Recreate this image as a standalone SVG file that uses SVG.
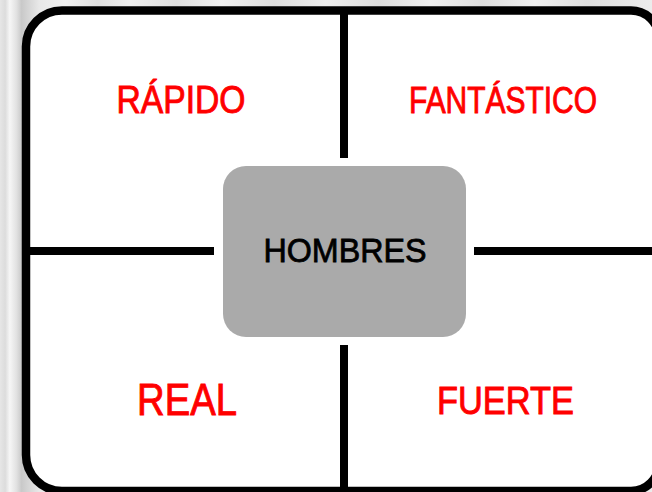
<svg xmlns="http://www.w3.org/2000/svg" width="652" height="492" viewBox="0 0 652 492">
<defs>
<linearGradient id="bg" x1="0" y1="0" x2="652" y2="0" gradientUnits="userSpaceOnUse">
<stop offset="0" stop-color="#e6e6e6"/>
<stop offset="0.008" stop-color="#dcdcdc"/>
<stop offset="0.015" stop-color="#f6f6f6"/>
<stop offset="0.025" stop-color="#e2e2e2"/>
<stop offset="0.033" stop-color="#c9c9c9"/>
<stop offset="0.06" stop-color="#e8e8e8"/>
<stop offset="0.1" stop-color="#f2f2f2"/>
<stop offset="0.15" stop-color="#e0e0e0"/>
<stop offset="0.2" stop-color="#efefef"/>
<stop offset="0.27" stop-color="#dedede"/>
<stop offset="0.34" stop-color="#f0f0f0"/>
<stop offset="0.42" stop-color="#dddddd"/>
<stop offset="0.5" stop-color="#eeeeee"/>
<stop offset="0.58" stop-color="#dcdcdc"/>
<stop offset="0.66" stop-color="#efefef"/>
<stop offset="0.74" stop-color="#dddddd"/>
<stop offset="0.82" stop-color="#f0f0f0"/>
<stop offset="0.9" stop-color="#dedede"/>
<stop offset="1" stop-color="#ececec"/>
</linearGradient>
<style>
.frame{fill:#ffffff;stroke:#000000;stroke-width:8.5}
.div{stroke:#000000;stroke-width:8;fill:none}
.lbl{font-family:"Liberation Sans",Arial,sans-serif;fill:#ff0000;stroke:#ff0000;stroke-width:0.9;text-anchor:middle}
.center{fill:#aaaaaa}
.ctext{font-family:"Liberation Sans",Arial,sans-serif;fill:#000000;stroke:#000000;stroke-width:0.8;text-anchor:middle}
</style>
</defs>
<rect x="0" y="0" width="652" height="492" fill="url(#bg)"/>
<path class="frame" d="M62,10.5 H631 A28,28 0 0 1 659,38.5 V463 A28,28 0 0 1 631,491 H62 A36,36 0 0 1 26,455 V46.5 A36,36 0 0 1 62,10.5 Z"/>
<g id="connectors">
<line class="div" x1="344" y1="10" x2="344" y2="158"/>
<line class="div" x1="344" y1="345" x2="344" y2="491"/>
<line class="div" x1="26" y1="251" x2="214" y2="251"/>
<line class="div" x1="474" y1="251" x2="659" y2="251"/>
</g>
<g id="rapido">
<text class="lbl" x="181" y="113" font-size="38" textLength="129" lengthAdjust="spacingAndGlyphs">RÁPIDO</text>
</g>
<g id="fantastico">
<text class="lbl" x="503" y="113" font-size="37" textLength="188" lengthAdjust="spacingAndGlyphs">FANTÁSTICO</text>
</g>
<g id="real">
<text class="lbl" x="187" y="415" font-size="44" textLength="100" lengthAdjust="spacingAndGlyphs">REAL</text>
</g>
<g id="fuerte">
<text class="lbl" x="505.5" y="414" font-size="38.5" textLength="137" lengthAdjust="spacingAndGlyphs">FUERTE</text>
</g>
<g id="hombres">
<rect class="center" x="223" y="166" width="243" height="171" rx="23" ry="23"/>
<text class="ctext" x="345" y="262" font-size="34" textLength="163" lengthAdjust="spacingAndGlyphs">HOMBRES</text>
</g>
</svg>
